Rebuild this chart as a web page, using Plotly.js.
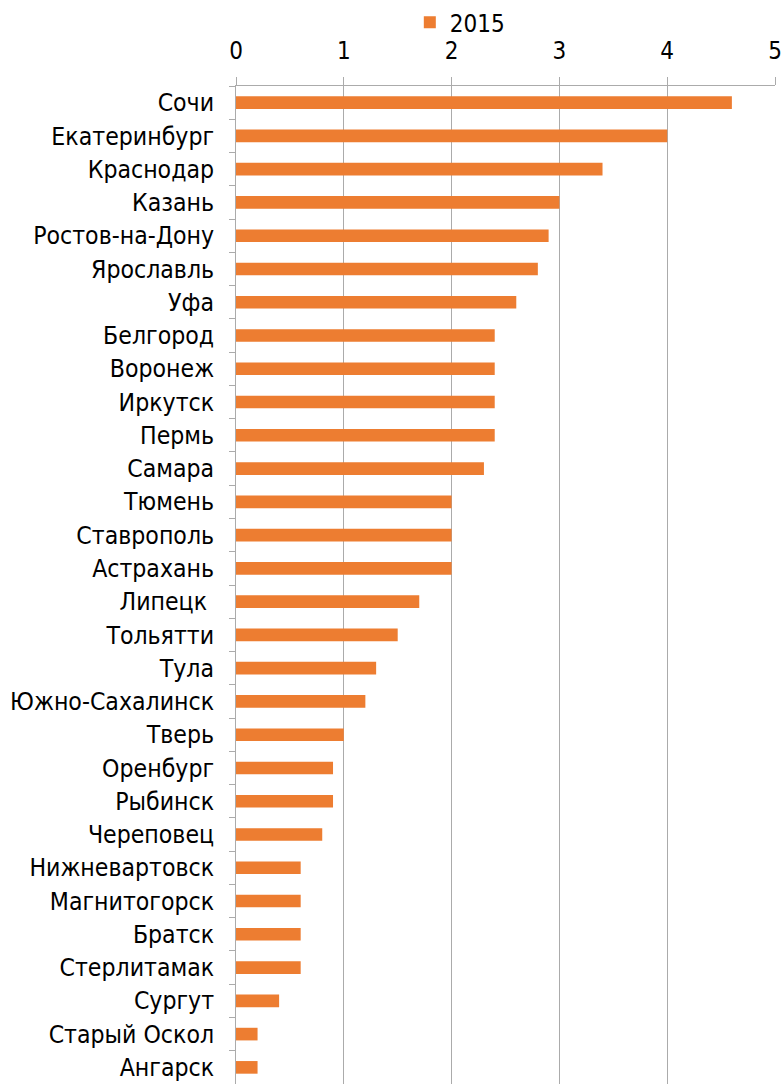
<!DOCTYPE html>
<html>
<head>
<meta charset="utf-8">
<script src="https://cdn.plot.ly/plotly-3.0.1.min.js"></script>
<style>html,body{margin:0;padding:0;background:#fff;}#chart{width:782px;height:1084px;}</style>
</head>
<body>
<div id="chart"></div>
<script>
const cities = ["Сочи","Екатеринбург","Краснодар","Казань","Ростов-на-Дону","Ярославль","Уфа","Белгород","Воронеж","Иркутск","Пермь","Самара","Тюмень","Ставрополь","Астрахань","Липецк ","Тольятти","Тула","Южно-Сахалинск","Тверь","Оренбург","Рыбинск","Череповец","Нижневартовск","Магнитогорск","Братск","Стерлитамак","Сургут","Старый Оскол","Ангарск"];
const values2015 = [4.6,4.0,3.4,3.0,2.9,2.8,2.6,2.4,2.4,2.4,2.4,2.3,2.0,2.0,2.0,1.7,1.5,1.3,1.2,1.0,0.9,0.9,0.8,0.6,0.6,0.6,0.6,0.4,0.2,0.2];
const seriesName = "2015";
const xTicks = [0,1,2,3,4,5];

const font = "'DejaVu Sans Condensed', 'DejaVu Sans', sans-serif";
const trace = {
  type: "bar", orientation: "h",
  y: cities, x: values2015, name: seriesName,
  marker: {color: "#ED7D31"}, width: 0.38,
  showlegend: true, hoverinfo: "x+y"
};
const layout = {
  width: 782, height: 1084,
  margin: {l: 236, r: 7, t: 86, b: 0, pad: 0},
  paper_bgcolor: "#fff", plot_bgcolor: "#fff",
  font: {family: font, size: 24, color: "#000"},
  showlegend: true,
  legend: {orientation: "h", xref: "container", yref: "container", x: 0.588, xanchor: "center", y: 0.979, yanchor: "middle", font: {size: 24}, itemwidth: 30, tracegroupgap: 0, bgcolor: "rgba(0,0,0,0)"},
  xaxis: {
    side: "top", range: [0, 5], tickvals: xTicks, ticktext: xTicks.map(String),
    showgrid: true, gridcolor: "#ABABAB", gridwidth: 1,
    showline: true, linecolor: "#ABABAB", linewidth: 1,
    ticks: "outside", ticklen: 8, tickcolor: "#ABABAB",
    zeroline: false, tickfont: {size: 24}, ticklabelstandoff: 8, fixedrange: true
  },
  yaxis: {
    type: "category", autorange: "reversed",
    showline: true, linecolor: "#ABABAB", linewidth: 1,
    ticks: "outside", tickson: "boundaries", ticklen: 6, tickcolor: "#ABABAB",
    showgrid: false, tickfont: {size: 24.6}, ticklabelstandoff: 16, fixedrange: true
  }
};
Plotly.newPlot("chart", [trace], layout, {displayModeBar: false, staticPlot: true});
</script>
</body>
</html>
